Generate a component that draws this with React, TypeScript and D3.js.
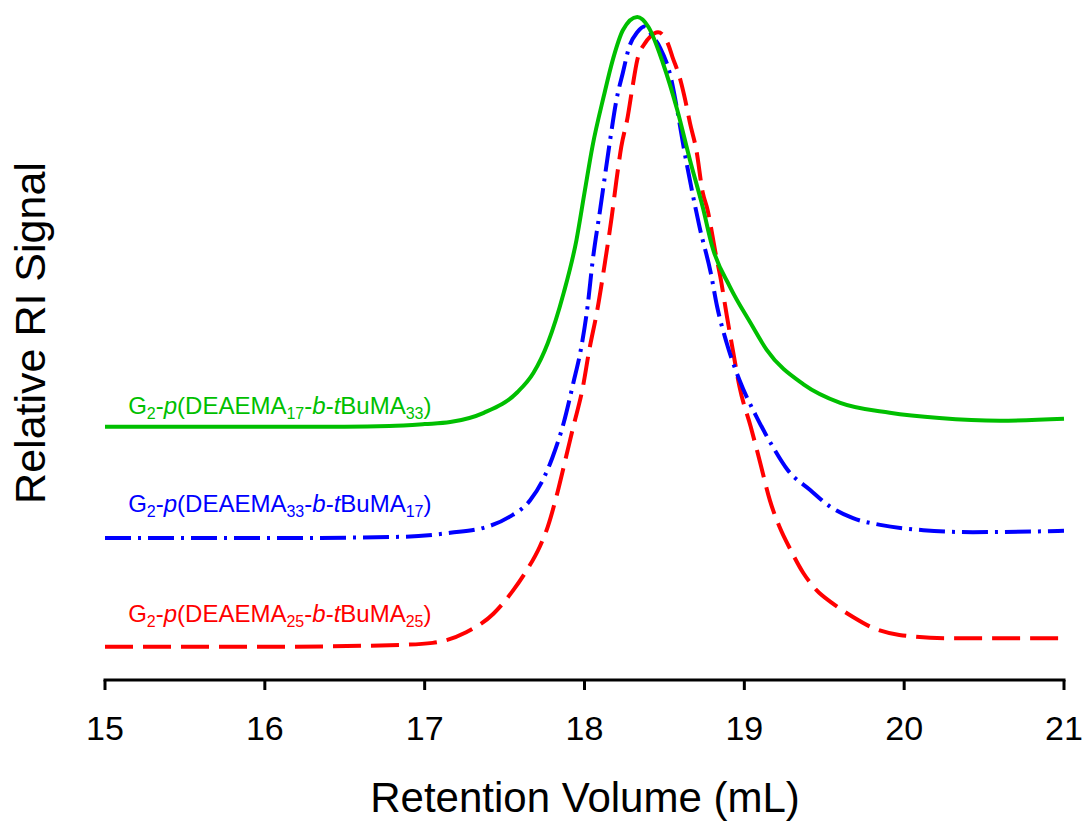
import React from "react";
import * as d3 from "d3";

const xTicks = [15, 16, 17, 18, 19, 20, 21];

const greenX = [15.0, 16.0, 16.5, 16.78, 17.0, 17.16, 17.37, 17.58, 17.68, 17.77, 17.87, 17.95, 18.0, 18.05, 18.12, 18.18, 18.24, 18.33, 18.4, 18.49, 18.58, 18.66, 18.74, 18.8, 18.91, 19.04, 19.14, 19.37, 19.6, 19.91, 20.22, 20.6, 21.0];
const greenY = [38.2, 38.2, 38.2, 38.3, 38.6, 38.9, 40.3, 43.4, 46.3, 50.8, 58.4, 66.4, 73.5, 80.5, 88.0, 93.8, 98.0, 100, 98.5, 93.1, 86.0, 78.4, 71.3, 65.3, 59.3, 53.8, 49.8, 44.6, 41.8, 40.3, 39.5, 39.1, 39.4];

const blueX = [15.0, 16.0, 16.85, 17.16, 17.39, 17.53, 17.66, 17.74, 17.8, 17.87, 17.93, 17.98, 18.02, 18.05, 18.1, 18.13, 18.16, 18.2, 18.24, 18.28, 18.33, 18.38, 18.42, 18.47, 18.54, 18.58, 18.62, 18.68, 18.72, 18.79, 18.83, 18.89, 18.97, 19.07, 19.18, 19.27, 19.41, 19.54, 19.68, 19.85, 20.12, 20.43, 21.0];
const blueY = [21.4, 21.4, 21.6, 22.2, 23.1, 24.6, 27.1, 30.2, 33.6, 38.8, 44.8, 50.2, 56.5, 63.0, 71.3, 76.4, 81.4, 87.5, 91.6, 95.5, 97.7, 98.6, 97.3, 95.5, 90.9, 86.0, 80.4, 72.9, 68.3, 61.4, 56.3, 50.8, 45.2, 40.0, 35.1, 31.7, 28.7, 26.1, 24.4, 23.4, 22.6, 22.3, 22.5];

const redX = [15.0, 16.0, 16.85, 17.05, 17.26, 17.43, 17.55, 17.64, 17.72, 17.77, 17.83, 17.89, 17.93, 17.99, 18.03, 18.08, 18.13, 18.17, 18.2, 18.23, 18.27, 18.3, 18.33, 18.38, 18.41, 18.46, 18.52, 18.55, 18.6, 18.63, 18.66, 18.7, 18.74, 18.77, 18.82, 18.85, 18.89, 18.93, 18.97, 19.04, 19.1, 19.16, 19.22, 19.29, 19.37, 19.45, 19.55, 19.68, 19.81, 19.97, 20.27, 21.0];
const redY = [5.0, 5.0, 5.3, 5.6, 7.2, 10.0, 13.4, 16.6, 20.1, 23.1, 28.2, 34.2, 38.2, 44.2, 49.8, 55.8, 63.3, 69.8, 75.4, 80.4, 84.9, 89.4, 93.5, 96.1, 97.0, 97.7, 96.1, 94.0, 90.5, 87.5, 84.0, 79.9, 73.5, 70.9, 64.4, 60.8, 55.0, 49.5, 44.2, 38.2, 32.7, 27.1, 23.1, 19.6, 16.1, 13.6, 11.6, 9.5, 7.8, 6.8, 6.3, 6.3];

// label parts: [text, style] where style: n normal, i italic, s subscript
const greenLabel: [string, string][] = [["G", "n"], ["2", "s"], ["-", "n"], ["p", "i"], ["(DEAEMA", "n"], ["17", "s"], ["-", "n"], ["b", "i"], ["-", "n"], ["t", "i"], ["BuMA", "n"], ["33", "s"], [")", "n"]];
const blueLabel: [string, string][] = [["G", "n"], ["2", "s"], ["-", "n"], ["p", "i"], ["(DEAEMA", "n"], ["33", "s"], ["-", "n"], ["b", "i"], ["-", "n"], ["t", "i"], ["BuMA", "n"], ["17", "s"], [")", "n"]];
const redLabel: [string, string][] = [["G", "n"], ["2", "s"], ["-", "n"], ["p", "i"], ["(DEAEMA", "n"], ["25", "s"], ["-", "n"], ["b", "i"], ["-", "n"], ["t", "i"], ["BuMA", "n"], ["25", "s"], [")", "n"]];

const labelX = 15.145;
const labelY = [40.1, 25.3, 8.7];

const FONT = "'Liberation Sans', Arial, Helvetica, sans-serif";

function Label({ parts, x, y, color }: { parts: [string, string][]; x: number; y: number; color: string }) {
  let prevSub = false;
  return (
    <text x={x} y={y} fill={color} fontSize={24} fontFamily={FONT}>
      {parts.map(([t, s], i) => {
        let dy = 0;
        if (s === "s" && !prevSub) dy = 5;
        if (s !== "s" && prevSub) dy = -5;
        prevSub = s === "s";
        return (
          <tspan key={i} dy={dy} fontSize={s === "s" ? 16 : 24} fontStyle={s === "i" ? "italic" : "normal"}>
            {t}
          </tspan>
        );
      })}
    </text>
  );
}

export default function App() {
  const W = 1086;
  const H = 823;
  const x = d3.scaleLinear().domain([15, 21]).range([105, 1064]);
  const y = d3.scaleLinear().domain([0, 100]).range([680, 17]);
  const line = d3
    .line<[number, number]>()
    .x((d) => x(d[0]))
    .y((d) => y(d[1]))
    .curve(d3.curveMonotoneX);
  const zip = (a: number[], b: number[]) => a.map((v, i) => [v, b[i]] as [number, number]);
  const axisY = y(0);

  return (
    <div style={{ position: "absolute", left: 0, top: 0 }}>
      <svg width={W} height={H} style={{ display: "block", background: "#fff" }}>
        <path d={line(zip(redX, redY)) || ""} fill="none" stroke="#FF0000" strokeWidth={4} strokeDasharray="28,10" />
        <path d={line(zip(blueX, blueY)) || ""} fill="none" stroke="#0000FF" strokeWidth={4} strokeDasharray="26,7,3,7" />
        <path d={line(zip(greenX, greenY)) || ""} fill="none" stroke="#00BF00" strokeWidth={4} />

        <Label parts={greenLabel} x={x(labelX)} y={y(labelY[0])} color="#00BF00" />
        <Label parts={blueLabel} x={x(labelX)} y={y(labelY[1])} color="#0000FF" />
        <Label parts={redLabel} x={x(labelX)} y={y(labelY[2])} color="#FF0000" />

        <line x1={x(15) - 1.5} x2={x(21) + 1.5} y1={axisY} y2={axisY} stroke="#000" strokeWidth={3} />
        {xTicks.map((t) => (
          <g key={t}>
            <line x1={x(t)} x2={x(t)} y1={axisY} y2={axisY + 10} stroke="#000" strokeWidth={3} />
            <text x={x(t)} y={axisY + 60} textAnchor="middle" fontSize={34} fontFamily={FONT} fill="#000">
              {t}
            </text>
          </g>
        ))}
        <text x={585} y={812} textAnchor="middle" fontSize={42} fontFamily={FONT} fill="#000">
          Retention Volume (mL)
        </text>
        <text
          transform={`translate(45,333) rotate(-90)`}
          textAnchor="middle"
          fontSize={43}
          fontFamily={FONT}
          fill="#000"
        >
          Relative RI Signal
        </text>
      </svg>
    </div>
  );
}
